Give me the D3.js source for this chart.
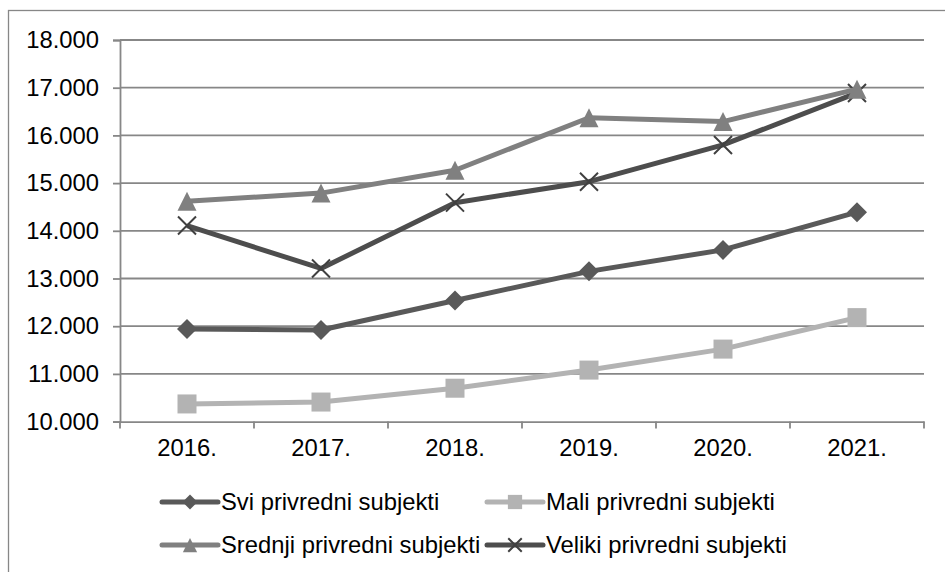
<!DOCTYPE html>
<html><head><meta charset="utf-8">
<script src="https://cdn.jsdelivr.net/npm/d3@7"></script>
<style>html,body{margin:0;padding:0;background:#fff;} svg{display:block;font-family:"Liberation Sans",Arial,sans-serif;}</style>
</head><body><svg id="c" width="945" height="572"></svg>
<script>
const years = ["2016.","2017.","2018.","2019.","2020.","2021."];
const sviValues = [11940, 11920, 12540, 13150, 13600, 14390];
const maliValues = [10370, 10410, 10700, 11080, 11520, 12180];
const srednjiValues = [14620, 14790, 15270, 16370, 16290, 16970];
const velikiValues = [14110, 13210, 14590, 15030, 15800, 16890];
const seriesNames = ["Svi privredni subjekti","Mali privredni subjekti","Srednji privredni subjekti","Veliki privredni subjekti"];
const yTicks = [10000,11000,12000,13000,14000,15000,16000,17000,18000];

const series = [
  {name: seriesNames[0], values: sviValues, color:"#595959", marker:"diamond", mcolor:"#595959"},
  {name: seriesNames[1], values: maliValues, color:"#b3b3b3", marker:"square", mcolor:"#b3b3b3"},
  {name: seriesNames[2], values: srednjiValues, color:"#808080", marker:"triangle", mcolor:"#808080"},
  {name: seriesNames[3], values: velikiValues, color:"#4d4d4d", marker:"x", mcolor:"#404040"}
];

const svg = d3.select("#c");
const gridColor = "#878787";
const FS = 23.8;
const fmt = d3.formatLocale({decimal:",", thousands:".", grouping:[3], currency:["",""]}).format(",");

// outer frame
svg.append("rect").attr("x",8.5).attr("y",10.5).attr("width",1000).attr("height",700)
  .attr("fill","none").attr("stroke",gridColor).attr("stroke-width",1.3);

const x = d3.scaleBand().domain(years).range([120, 924]).padding(0);
const y = d3.scaleLinear().domain([10000, 18000]).range([421.6, 40]);

// gridlines
svg.append("g").selectAll("line").data(yTicks.slice(1)).join("line")
  .attr("x1",120).attr("x2",924).attr("y1",d=>y(d)).attr("y2",d=>y(d))
  .attr("stroke",gridColor).attr("stroke-width",1.8);

// y axis
const yAxis = svg.append("g").attr("transform","translate(120,0)")
  .call(d3.axisLeft(y).tickValues(yTicks).tickFormat(fmt).tickSize(7).tickPadding(14));
yAxis.select(".domain").attr("stroke",gridColor).attr("stroke-width",1.8);
yAxis.selectAll(".tick line").attr("stroke",gridColor).attr("stroke-width",1.8);
yAxis.selectAll(".tick text").attr("font-size",FS).attr("fill","#000")
  .attr("font-family","'Liberation Sans',Arial,sans-serif");

// x axis
const xAxis = svg.append("g").attr("transform",`translate(0,${y(10000)})`)
  .call(d3.axisBottom(x).tickSize(0).tickPadding(18));
xAxis.select(".domain").attr("stroke",gridColor).attr("stroke-width",1.8);
xAxis.selectAll(".tick text").attr("font-size",FS).attr("fill","#000")
  .attr("font-family","'Liberation Sans',Arial,sans-serif");
const bounds = years.map(d=>x(d)).concat([x(years[years.length-1]) + x.bandwidth()]);
svg.append("g").selectAll("line").data(bounds).join("line")
  .attr("x1",d=>d).attr("x2",d=>d).attr("y1",y(10000)).attr("y2",y(10000)+7)
  .attr("stroke",gridColor).attr("stroke-width",1.8);

function drawMarker(g, type, cx, cy, color, scale) {
  const s = scale || 1;
  if (type === "diamond") {
    const r = 10*s;
    g.append("path").attr("d",`M${cx},${cy-r}L${cx+r},${cy}L${cx},${cy+r}L${cx-r},${cy}Z`).attr("fill",color);
  } else if (type === "square") {
    const h = 9.5*s;
    g.append("rect").attr("x",cx-h).attr("y",cy-h).attr("width",2*h).attr("height",2*h).attr("fill",color);
  } else if (type === "triangle") {
    const h = 9.5*s;
    g.append("path").attr("d",`M${cx},${cy-h}L${cx+h},${cy+h}L${cx-h},${cy+h}Z`).attr("fill",color);
  } else if (type === "x") {
    const h = 9*s;
    g.append("path").attr("d",`M${cx-h},${cy-h}L${cx+h},${cy+h}M${cx-h},${cy+h}L${cx+h},${cy-h}`)
      .attr("stroke",color).attr("stroke-width",2).attr("fill","none");
  }
}

const line = d3.line().x((d,i)=>x(years[i]) + x.bandwidth()/2).y(d=>y(d));
const order = [1,0,3,2];
order.forEach(k=>{
  const s = series[k];
  const g = svg.append("g");
  g.append("path").attr("d", line(s.values)).attr("fill","none")
    .attr("stroke", s.color).attr("stroke-width",5).attr("stroke-linejoin","round");
  s.values.forEach((v,i)=>drawMarker(g, s.marker, x(years[i])+x.bandwidth()/2, y(v), s.mcolor, 1));
});

// legend
const legendPos = [[162,502],[487,502],[162,545],[487,545]];
series.forEach((s,k)=>{
  const [lx, ly] = legendPos[k];
  const g = svg.append("g");
  g.append("line").attr("x1",lx).attr("x2",lx+56).attr("y1",ly).attr("y2",ly)
    .attr("stroke",s.color).attr("stroke-width",5).attr("stroke-linecap","round");
  drawMarker(g, s.marker, lx+28, ly, s.mcolor, 0.75);
  g.append("text").attr("x",lx+59).attr("y",ly+8).attr("font-size",FS).attr("fill","#000").text(s.name);
});
</script></body></html>
